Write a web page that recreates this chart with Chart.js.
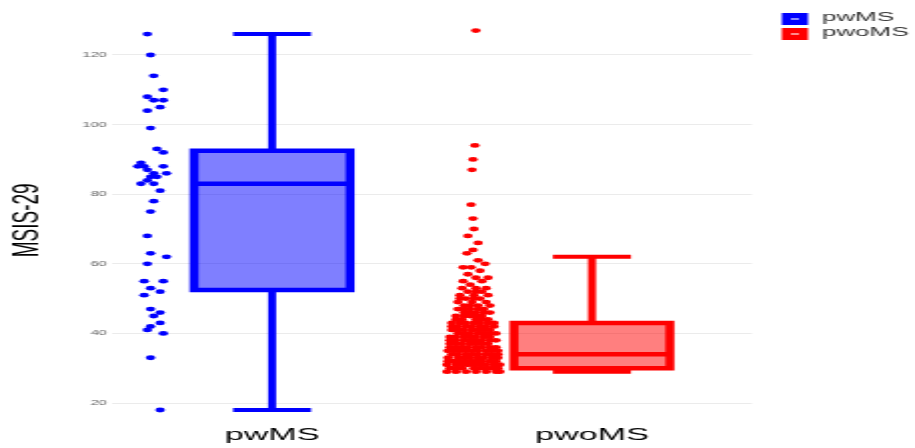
<!DOCTYPE html>
<html lang="en">
<head>
<meta charset="UTF-8">
<title>MSIS-29 by group</title>
<script src="https://cdn.jsdelivr.net/npm/chart.js"></script>
<style>
  html, body { margin: 0; padding: 0; background: #fff; overflow: hidden; }
  /* the source picture is stretched 2x sideways, so draw at half width and stretch */
  #wrap { width: 457px; height: 448px; transform: scaleX(2.0022); transform-origin: 0 0; }
</style>
</head>
<body>
<div id="wrap"><canvas id="boxChart"></canvas></div>
<script>
const groups = ['pwMS', 'pwoMS'];
const lineColors = ['#0000ff', '#ff0000'];
const fillColors = ['rgba(0, 0, 255, 0.5)', 'rgba(255, 0, 0, 0.5)'];
const yTicks = [20, 40, 60, 80, 100, 120];

// box summaries
const whiskerLow = [18, 29];
const q1 = [52.5, 30];
const median = [83, 34];
const q3 = [92.5, 43];
const whiskerHigh = [126, 62];

// jittered observations: [MSIS-29, offset from group centre]
const pwMSPoints = [
  [126, -0.39], [120, -0.38], [114, -0.37], [110, -0.34], [108, -0.39], [107, -0.37], [107, -0.34],
  [105, -0.35], [104, -0.39], [99, -0.38], [93, -0.36], [92, -0.34], [89, -0.41], [88, -0.42],
  [88, -0.34], [88, -0.40], [87, -0.39], [86, -0.37], [86, -0.33], [85, -0.38], [85, -0.36],
  [84, -0.39], [83, -0.41], [83, -0.37], [81, -0.35], [78, -0.37], [75, -0.38], [68, -0.39],
  [63, -0.38], [62, -0.33], [60, -0.39], [55, -0.40], [55, -0.34], [53, -0.38], [52, -0.35],
  [51, -0.40], [47, -0.38], [46, -0.35], [45, -0.37], [43, -0.35], [42, -0.38], [41, -0.39],
  [40, -0.34], [33, -0.38], [18, -0.35]
];

const pwoMSPoints = [
  [127, -0.363], [94, -0.366], [90, -0.372], [87, -0.375], [77, -0.378], [73, -0.372], [70, -0.369],
  [68, -0.388], [66, -0.356], [64, -0.372], [63, -0.391], [61, -0.356], [60, -0.334],
  [59, -0.403], [59, -0.378], [58, -0.350], [57, -0.388],
  [56, -0.363], [56, -0.325], [55, -0.403], [55, -0.344], [54, -0.381],
  [53, -0.406], [53, -0.363], [53, -0.331], [52, -0.388], [52, -0.363], [52, -0.344],
  [51, -0.413], [51, -0.369], [51, -0.325], [50, -0.413], [50, -0.394], [50, -0.369], [50, -0.350],
  [49, -0.419], [49, -0.375], [49, -0.331], [48, -0.400], [48, -0.381], [48, -0.356], [48, -0.319],
  [47, -0.419], [47, -0.400], [47, -0.381], [47, -0.356], [47, -0.338],
  [46, -0.400], [46, -0.381], [46, -0.363], [46, -0.338], [46, -0.319],
  [45, -0.425], [45, -0.400], [45, -0.381], [45, -0.363], [45, -0.344],
  [44, -0.425], [44, -0.406], [44, -0.363], [44, -0.344], [44, -0.325],
  [43, -0.438], [43, -0.413], [43, -0.394], [43, -0.369], [43, -0.350], [43, -0.325], [43, -0.306],
  [42, -0.438], [42, -0.419], [42, -0.394], [42, -0.375], [42, -0.350], [42, -0.331], [42, -0.306],
  [41, -0.438], [41, -0.419], [41, -0.400], [41, -0.375], [41, -0.356], [41, -0.338], [41, -0.319],
  [40, -0.419], [40, -0.400], [40, -0.381], [40, -0.356], [40, -0.338], [40, -0.319], [40, -0.300],
  [39, -0.444], [39, -0.425], [39, -0.400], [39, -0.381], [39, -0.363], [39, -0.338], [39, -0.319],
  [38, -0.444], [38, -0.425], [38, -0.400], [38, -0.381], [38, -0.363], [38, -0.344], [38, -0.319], [38, -0.300],
  [37, -0.444], [37, -0.425], [37, -0.406], [37, -0.381], [37, -0.363], [37, -0.344], [37, -0.325],
  [36, -0.444], [36, -0.425], [36, -0.406], [36, -0.388], [36, -0.363], [36, -0.344], [36, -0.319], [36, -0.300],
  [35, -0.450], [35, -0.431], [35, -0.413], [35, -0.394], [35, -0.375], [35, -0.356], [35, -0.331], [35, -0.313], [35, -0.294],
  [34, -0.438], [34, -0.419], [34, -0.394], [34, -0.375], [34, -0.356], [34, -0.331], [34, -0.313], [34, -0.294],
  [33, -0.450], [33, -0.419], [33, -0.400], [33, -0.381], [33, -0.356], [33, -0.338], [33, -0.313], [33, -0.294],
  [32, -0.450], [32, -0.438], [32, -0.419], [32, -0.400], [32, -0.381], [32, -0.363], [32, -0.344], [32, -0.319], [32, -0.300],
  [31, -0.453], [31, -0.425], [31, -0.406], [31, -0.388], [31, -0.369], [31, -0.350], [31, -0.331], [31, -0.306], [31, -0.288],
  [30, -0.444], [30, -0.425], [30, -0.406], [30, -0.369], [30, -0.350], [30, -0.331], [30, -0.313], [30, -0.294],
  [29, -0.453], [29, -0.425], [29, -0.394], [29, -0.363], [29, -0.331], [29, -0.300], [29, -0.288]
];

const groupPoints = [pwMSPoints, pwoMSPoints];

const boxWidth = 0.4875;   // in category units
const capWidth = 0.244;
const font = '"Liberation Sans", Arial, Helvetica, sans-serif';

const GAP = { x: null, y: null };

const datasets = [];

// box fills, one bar per group
datasets.push({
    type: 'bar',
    data: groups.map((g, i) => ({ x: i + 1, y: [q1[i], q3[i]] })),
    backgroundColor: fillColors,
    borderWidth: 0,
    categoryPercentage: 1,
    barPercentage: boxWidth,
    order: 3
});

groups.forEach((g, i) => {
    const c = i + 1;
    const h = boxWidth / 2;
    const cw = capWidth / 2;

    // box outline and median
    datasets.push({
        type: 'line',
        data: [
            { x: c - h, y: q1[i] }, { x: c - h, y: q3[i] }, { x: c + h, y: q3[i] },
            { x: c + h, y: q1[i] }, { x: c - h, y: q1[i] }, GAP,
            { x: c - h, y: median[i] }, { x: c + h, y: median[i] }
        ],
        borderColor: lineColors[i],
        borderWidth: 4.5,
        borderCapStyle: 'square',
        borderJoinStyle: 'miter',
        pointRadius: 0,
        fill: false,
        order: 2
    });

    // whiskers and caps
    datasets.push({
        type: 'line',
        data: [
            { x: c, y: q3[i] }, { x: c, y: whiskerHigh[i] }, GAP,
            { x: c - cw, y: whiskerHigh[i] }, { x: c + cw, y: whiskerHigh[i] }, GAP,
            { x: c, y: q1[i] }, { x: c, y: whiskerLow[i] }, GAP,
            { x: c - cw, y: whiskerLow[i] }, { x: c + cw, y: whiskerLow[i] }
        ],
        borderColor: lineColors[i],
        borderWidth: 4,
        pointRadius: 0,
        fill: false,
        order: 2
    });

    // jittered points
    datasets.push({
        type: 'scatter',
        data: groupPoints[i].map(p => ({ x: c + p[1], y: p[0] })),
        backgroundColor: lineColors[i],
        borderWidth: 0,
        pointRadius: 2.4,
        order: 1
    });
});

const groupLegend = {
    id: 'groupLegend',
    afterDraw(chart) {
        const ctx = chart.ctx;
        const left = chart.chartArea.right + 15;
        ctx.save();
        ctx.font = '13px ' + font;
        ctx.textBaseline = 'middle';
        groups.forEach((g, i) => {
            const top = 13 + i * 15;
            ctx.fillStyle = lineColors[i];
            ctx.fillRect(left, top, 13, 12);
            ctx.fillStyle = 'rgba(255, 255, 255, 0.55)';
            ctx.fillRect(left + 4.5, top + 5, 4, 2);
            ctx.fillStyle = '#333333';
            ctx.fillText(g, left + 20, top + 4);
        });
        ctx.restore();
    }
};

new Chart(document.getElementById('boxChart'), {
    data: { datasets: datasets },
    options: {
        responsive: true,
        maintainAspectRatio: false,
        animation: false,
        events: [],
        layout: { padding: { top: 16.7, right: 81.5, left: 0, bottom: 0 } },
        plugins: {
            legend: { display: false },
            tooltip: { enabled: false }
        },
        scales: {
            x: {
                type: 'linear',
                min: 0.5,
                max: 2.5,
                offset: false,
                grid: { display: false, offset: false },
                border: { display: false },
                afterBuildTicks: (scale) => { scale.ticks = groups.map((g, i) => ({ value: i + 1 })); },
                afterFit: (scale) => { scale.height = 24.1; },
                ticks: {
                    autoSkip: false,
                    maxRotation: 0,
                    padding: -7,
                    color: '#000000',
                    font: { family: font, size: 17 },
                    callback: (v) => groups[v - 1] || ''
                }
            },
            y: {
                type: 'linear',
                min: 14,
                max: 131,
                grid: { color: '#ebebeb', lineWidth: 1, drawTicks: false },
                border: { display: false },
                afterBuildTicks: (scale) => { scale.ticks = yTicks.map(v => ({ value: v })); },
                afterFit: (scale) => { scale.width = 56; },
                ticks: {
                    padding: 2.5,
                    color: '#666666',
                    font: { family: font, size: 7.5 }
                },
                title: {
                    display: true,
                    text: 'MSIS-29',
                    color: '#000000',
                    font: { family: font, size: 19 },
                    padding: { top: 2.6, bottom: 0 }
                }
            }
        }
    },
    plugins: [groupLegend]
});
</script>
</body>
</html>
